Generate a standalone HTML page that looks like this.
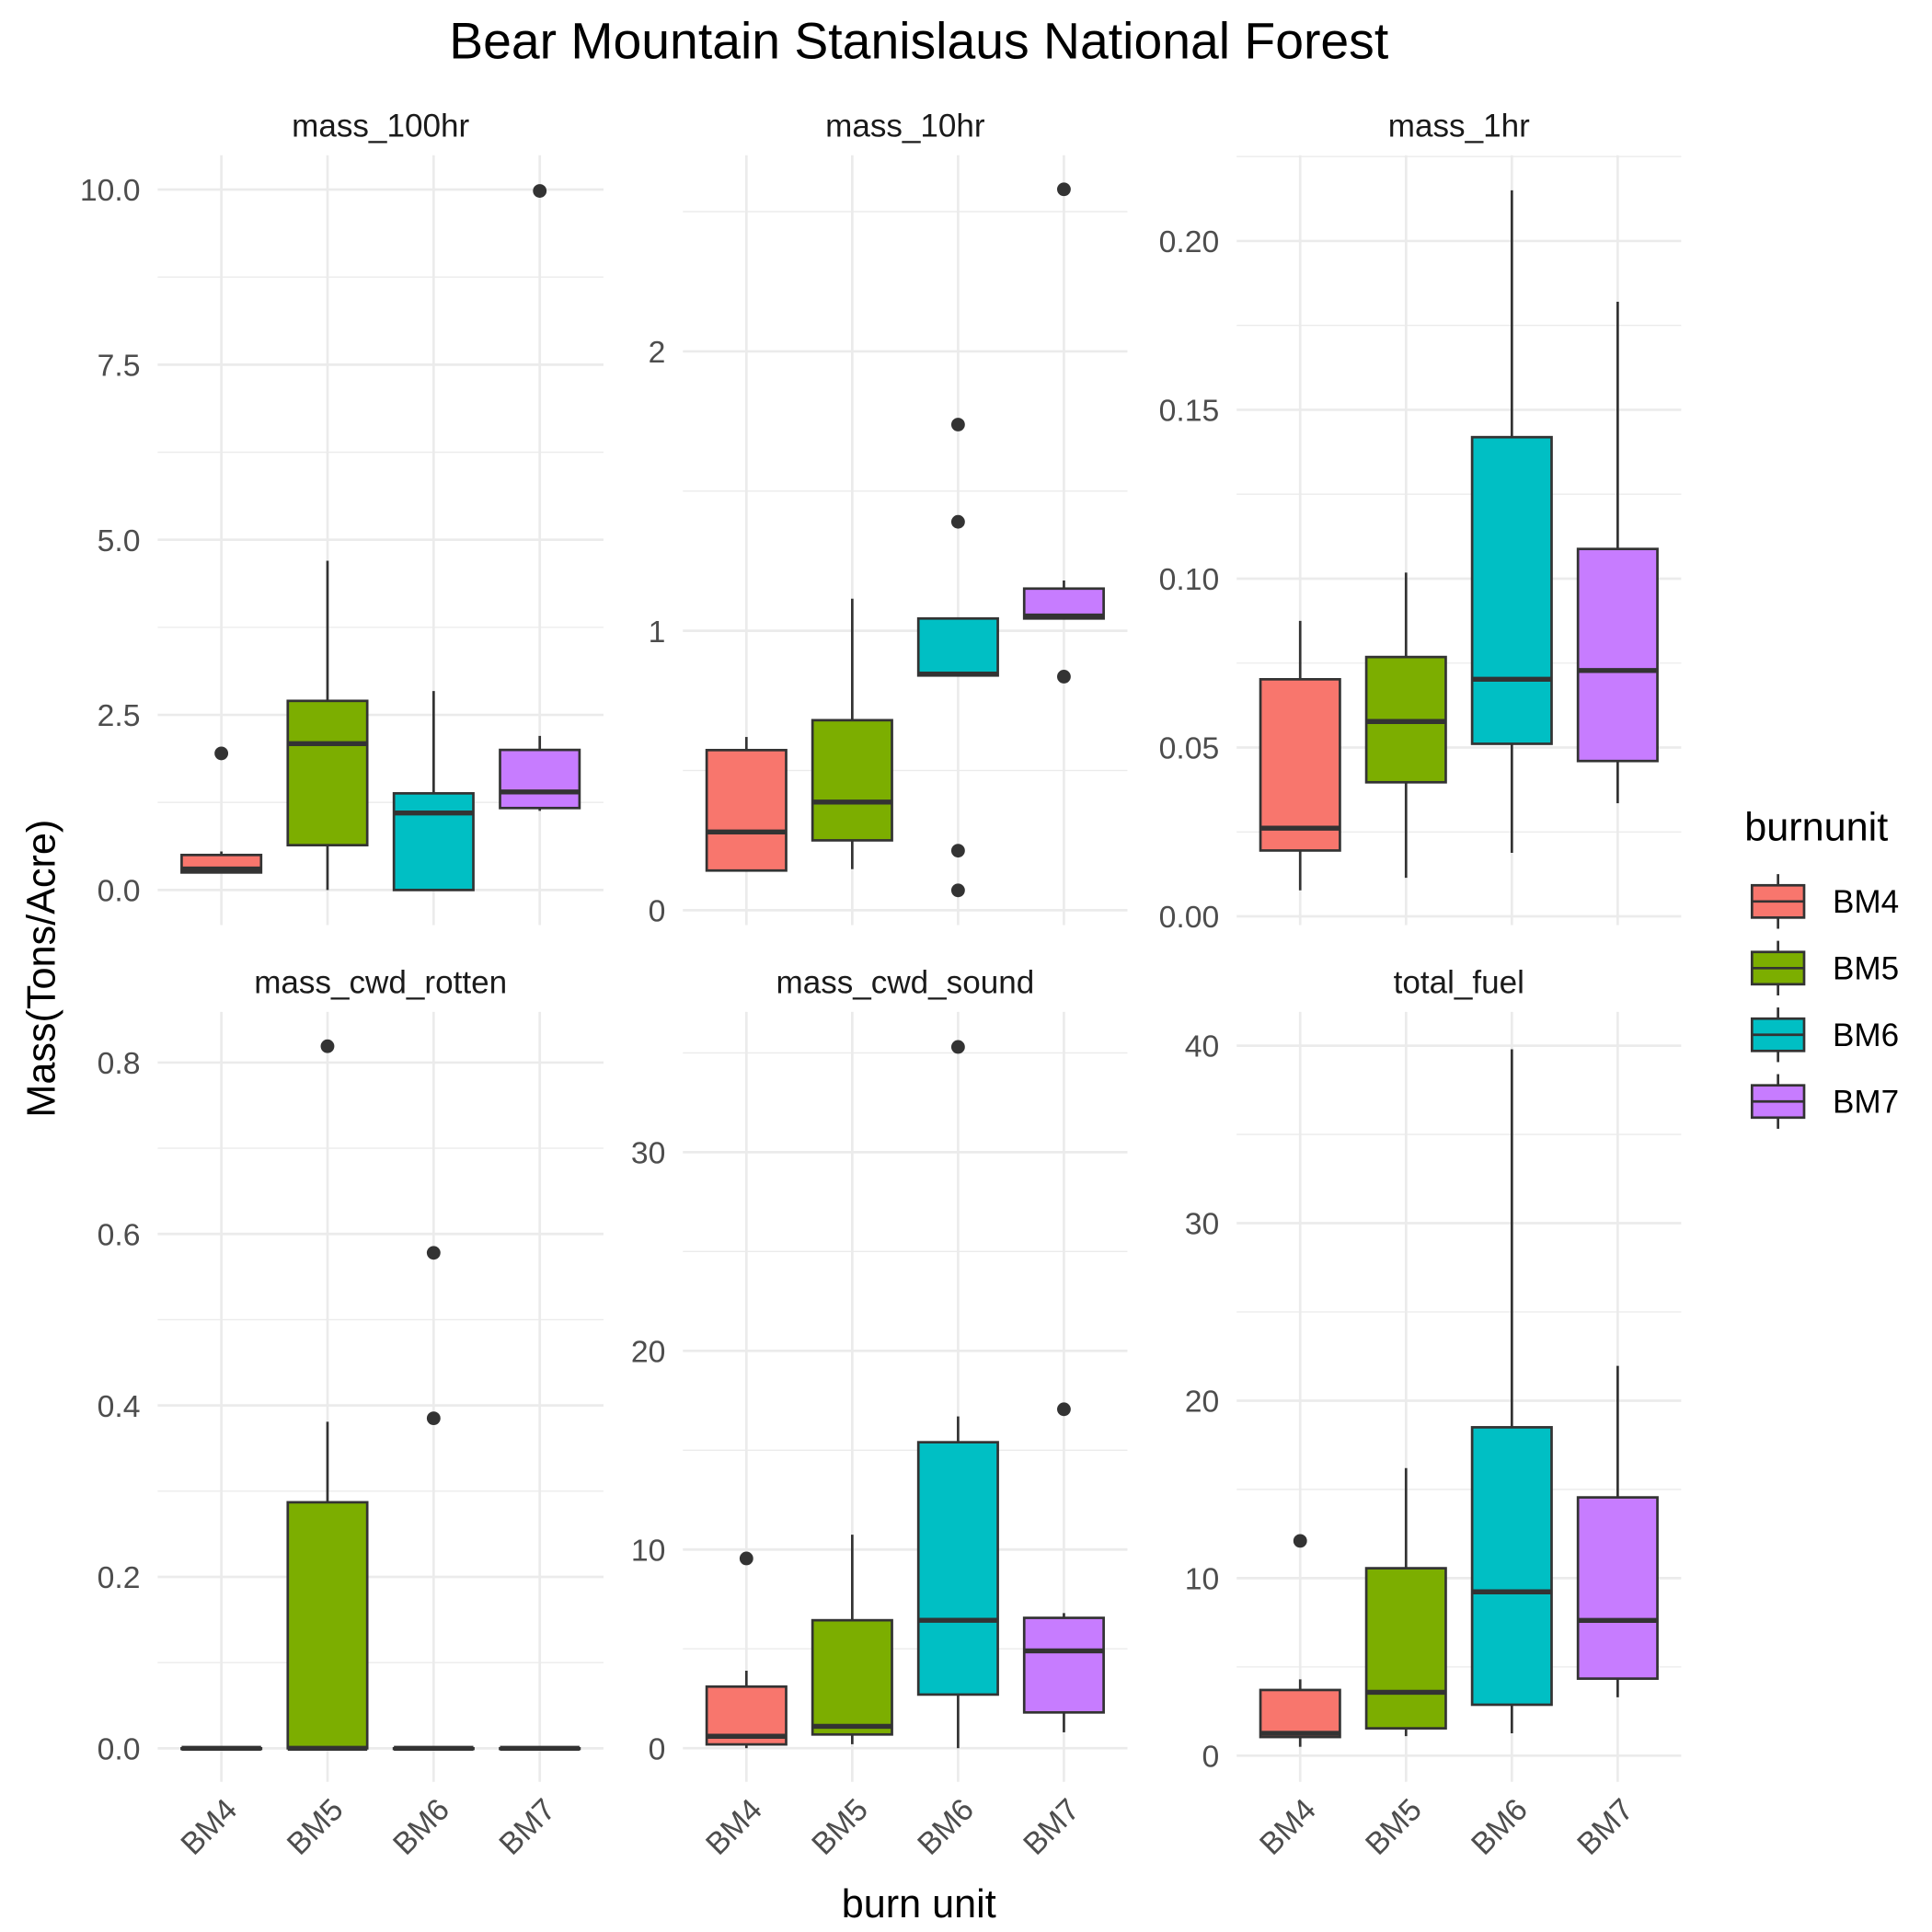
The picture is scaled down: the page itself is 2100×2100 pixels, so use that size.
<!DOCTYPE html>
<html><head><meta charset="utf-8"><style>
html,body{margin:0;padding:0;background:#fff}
svg{display:block;font-family:"Liberation Sans",Arial,sans-serif}
</style></head><body>
<svg id="chart" width="2100" height="2100" viewBox="0 0 1556 1556" xmlns="http://www.w3.org/2000/svg">
<rect width="1556" height="1556" fill="#fff"/>
<text x="740" y="47" font-size="41" text-anchor="middle" fill="#000">Bear Mountain Stanislaus National Forest</text>
<text transform="translate(44,780) rotate(-90)" font-size="32" text-anchor="middle" fill="#000">Mass(Tons/Acre)</text>
<text x="740" y="1544" font-size="32" text-anchor="middle" fill="#000">burn unit</text>
<g id="panels"></g>
<g id="legend"></g>
</svg>
<script>
const categories = ["BM4","BM5","BM6","BM7"];
const colors = ["#F8766D","#7CAE00","#00BFC4","#C77CFF"];
const panelNames = ["mass_100hr","mass_10hr","mass_1hr","mass_cwd_rotten","mass_cwd_sound","total_fuel"];
// [lowerWhisker, q1, median, q3, upperWhisker] per category
const stats100hr = [[0.25,0.25,0.30,0.50,0.55],[0,0.64,2.09,2.70,4.70],[0,0,1.10,1.38,2.84],[1.13,1.17,1.40,2.00,2.20]];
const outliers100hr = [[1.95],[],[],[9.98]];
const stats10hr = [[0.142,0.142,0.28,0.573,0.62],[0.147,0.25,0.387,0.68,1.115],[0.84,0.84,0.845,1.044,1.044],[1.044,1.044,1.053,1.151,1.18]];
const outliers10hr = [[],[],[1.738,1.39,0.213,0.071],[2.58,0.836]];
const stats1hr = [[0.0077,0.0195,0.0261,0.0702,0.0875],[0.0114,0.0397,0.0577,0.0768,0.1018],[0.0188,0.0511,0.0702,0.1419,0.215],[0.0335,0.046,0.0728,0.1088,0.182]];
const outliers1hr = [[],[],[],[]];
const statsRotten = [[0,0,0,0,0],[0,0,0,0.287,0.381],[0,0,0,0,0],[0,0,0,0,0]];
const outliersRotten = [[],[0.819],[0.578,0.385],[]];
const statsSound = [[0,0.19,0.6,3.1,3.9],[0.2,0.69,1.1,6.44,10.75],[0,2.7,6.44,15.4,16.7],[0.8,1.8,4.9,6.56,6.8]];
const outliersSound = [[9.55],[],[35.3],[17.06]];
const statsTotal = [[0.5,1.05,1.26,3.7,4.3],[1.1,1.54,3.57,10.56,16.2],[1.26,2.87,9.23,18.5,39.8],[3.29,4.34,7.62,14.55,21.96]];
const outliersTotal = [[12.1],[],[],[]];
const ticks100hr = [0,2.5,5,7.5,10];
const tickLabels100hr = ["0.0","2.5","5.0","7.5","10.0"];
const ticks10hr = [0,1,2];
const tickLabels10hr = ["0","1","2"];
const ticks1hr = [0,0.05,0.10,0.15,0.20];
const tickLabels1hr = ["0.00","0.05","0.10","0.15","0.20"];
const ticksRotten = [0,0.2,0.4,0.6,0.8];
const tickLabelsRotten = ["0.0","0.2","0.4","0.6","0.8"];
const ticksSound = [0,10,20,30];
const tickLabelsSound = ["0","10","20","30"];
const ticksTotal = [0,10,20,30,40];
const tickLabelsTotal = ["0","10","20","30","40"];

const NS="http://www.w3.org/2000/svg";
function mk(tag,attrs,parent){const e=document.createElementNS(NS,tag);for(const k in attrs)e.setAttribute(k,attrs[k]);parent.appendChild(e);return e;}

const panelDefs=[
 {stats:stats100hr,out:outliers100hr,ticks:ticks100hr,labels:tickLabels100hr,dom:[-0.5,10.49]},
 {stats:stats10hr,out:outliers10hr,ticks:ticks10hr,labels:tickLabels10hr,dom:[-0.053,2.702]},
 {stats:stats1hr,out:outliers1hr,ticks:ticks1hr,labels:tickLabels1hr,dom:[-0.00257,0.2254]},
 {stats:statsRotten,out:outliersRotten,ticks:ticksRotten,labels:tickLabelsRotten,dom:[-0.039,0.859]},
 {stats:statsSound,out:outliersSound,ticks:ticksSound,labels:tickLabelsSound,dom:[-1.69,37.06]},
 {stats:statsTotal,out:outliersTotal,ticks:ticksTotal,labels:tickLabelsTotal,dom:[-1.47,41.9]}
];
const colX=[[127,486],[550,908],[996,1354]];
const rowY=[[125,745],[815,1435]];
const root=document.getElementById('panels');
panelDefs.forEach((p,i)=>{
  const c=i%3,r=Math.floor(i/3);
  const [x0,x1]=colX[c],[yT,yB]=rowY[r];
  const g=mk('g',{},root);
  
  
  const y=v=>yB-(v-p.dom[0])/(p.dom[1]-p.dom[0])*(yB-yT);
  const step=(x1-x0)/4.2;
  const xc=k=>x0+step*(0.6+k);
  for(let t=0;t<p.ticks.length+1;t++){
    const d=p.ticks[1]-p.ticks[0];
    const v=p.ticks[0]+d*(t-0.5);
    if(v>p.dom[0]&&v<p.dom[1]) mk('line',{x1:x0,x2:x1,y1:y(v),y2:y(v),stroke:'#ebebeb','stroke-width':1},g);
  }
  p.ticks.forEach((t,j)=>{
    mk('line',{x1:x0,x2:x1,y1:y(t),y2:y(t),stroke:'#ebebeb','stroke-width':2},g);
    const tl=mk('text',{x:x0-14,y:y(t)+9,'font-size':25,'text-anchor':'end',fill:'#4d4d4d'},g);
    tl.textContent=p.labels[j];
    
    
  });
  categories.forEach((cat,k)=>{
    mk('line',{x1:xc(k),x2:xc(k),y1:yT,y2:yB,stroke:'#ebebeb','stroke-width':2},g);
  });
  const st=mk('text',{x:(x0+x1)/2,y:yT-15,'font-size':26,'text-anchor':'middle',fill:'#1a1a1a'},g);
  st.textContent=panelNames[i];
  
  
  categories.forEach((cat,k)=>{
    const s=p.stats[k],cx=xc(k),hw=32;
    const bg=mk('g',{},g);
    
    
    mk('line',{x1:cx,x2:cx,y1:y(s[0]),y2:y(s[1]),stroke:'#333','stroke-width':2},bg);
    mk('line',{x1:cx,x2:cx,y1:y(s[3]),y2:y(s[4]),stroke:'#333','stroke-width':2},bg);
    mk('rect',{x:cx-hw,y:y(s[3]),width:hw*2,height:Math.max(0.5,y(s[1])-y(s[3])),fill:colors[k],stroke:'#333','stroke-width':2},bg);
    mk('line',{x1:cx-hw,x2:cx+hw,y1:y(s[2]),y2:y(s[2]),stroke:'#333','stroke-width':4},bg);
    p.out[k].forEach(v=>{
      const o=mk('circle',{cx:cx,cy:y(v),r:5.5,fill:'#333'},bg);
      
      
    });
    if(r===1){
      const xl=mk('text',{transform:`translate(${cx+14},${yB+24}) rotate(-45)`,'font-size':25,'text-anchor':'end',fill:'#4d4d4d'},g);
      xl.textContent=cat;
      
      
    }
  });
});
const lg=document.getElementById('legend');
const lt=mk('text',{x:1405,y:677,'font-size':32,fill:'#000'},lg);
lt.textContent='burnunit';


categories.forEach((cat,k)=>{
  const cy=726+k*53.7;
  const e=mk('g',{},lg);
  
  
  mk('line',{x1:1432,x2:1432,y1:cy-22,y2:cy+22,stroke:'#333','stroke-width':2},e);
  mk('rect',{x:1411,y:cy-13,width:42,height:26,fill:colors[k],stroke:'#333','stroke-width':2},e);
  mk('line',{x1:1411,x2:1453,y1:cy,y2:cy,stroke:'#333','stroke-width':2},e);
  const t=mk('text',{x:1476,y:cy+9,'font-size':26,fill:'#000'},e);
  t.textContent=cat;
});
</script>
</body></html>
